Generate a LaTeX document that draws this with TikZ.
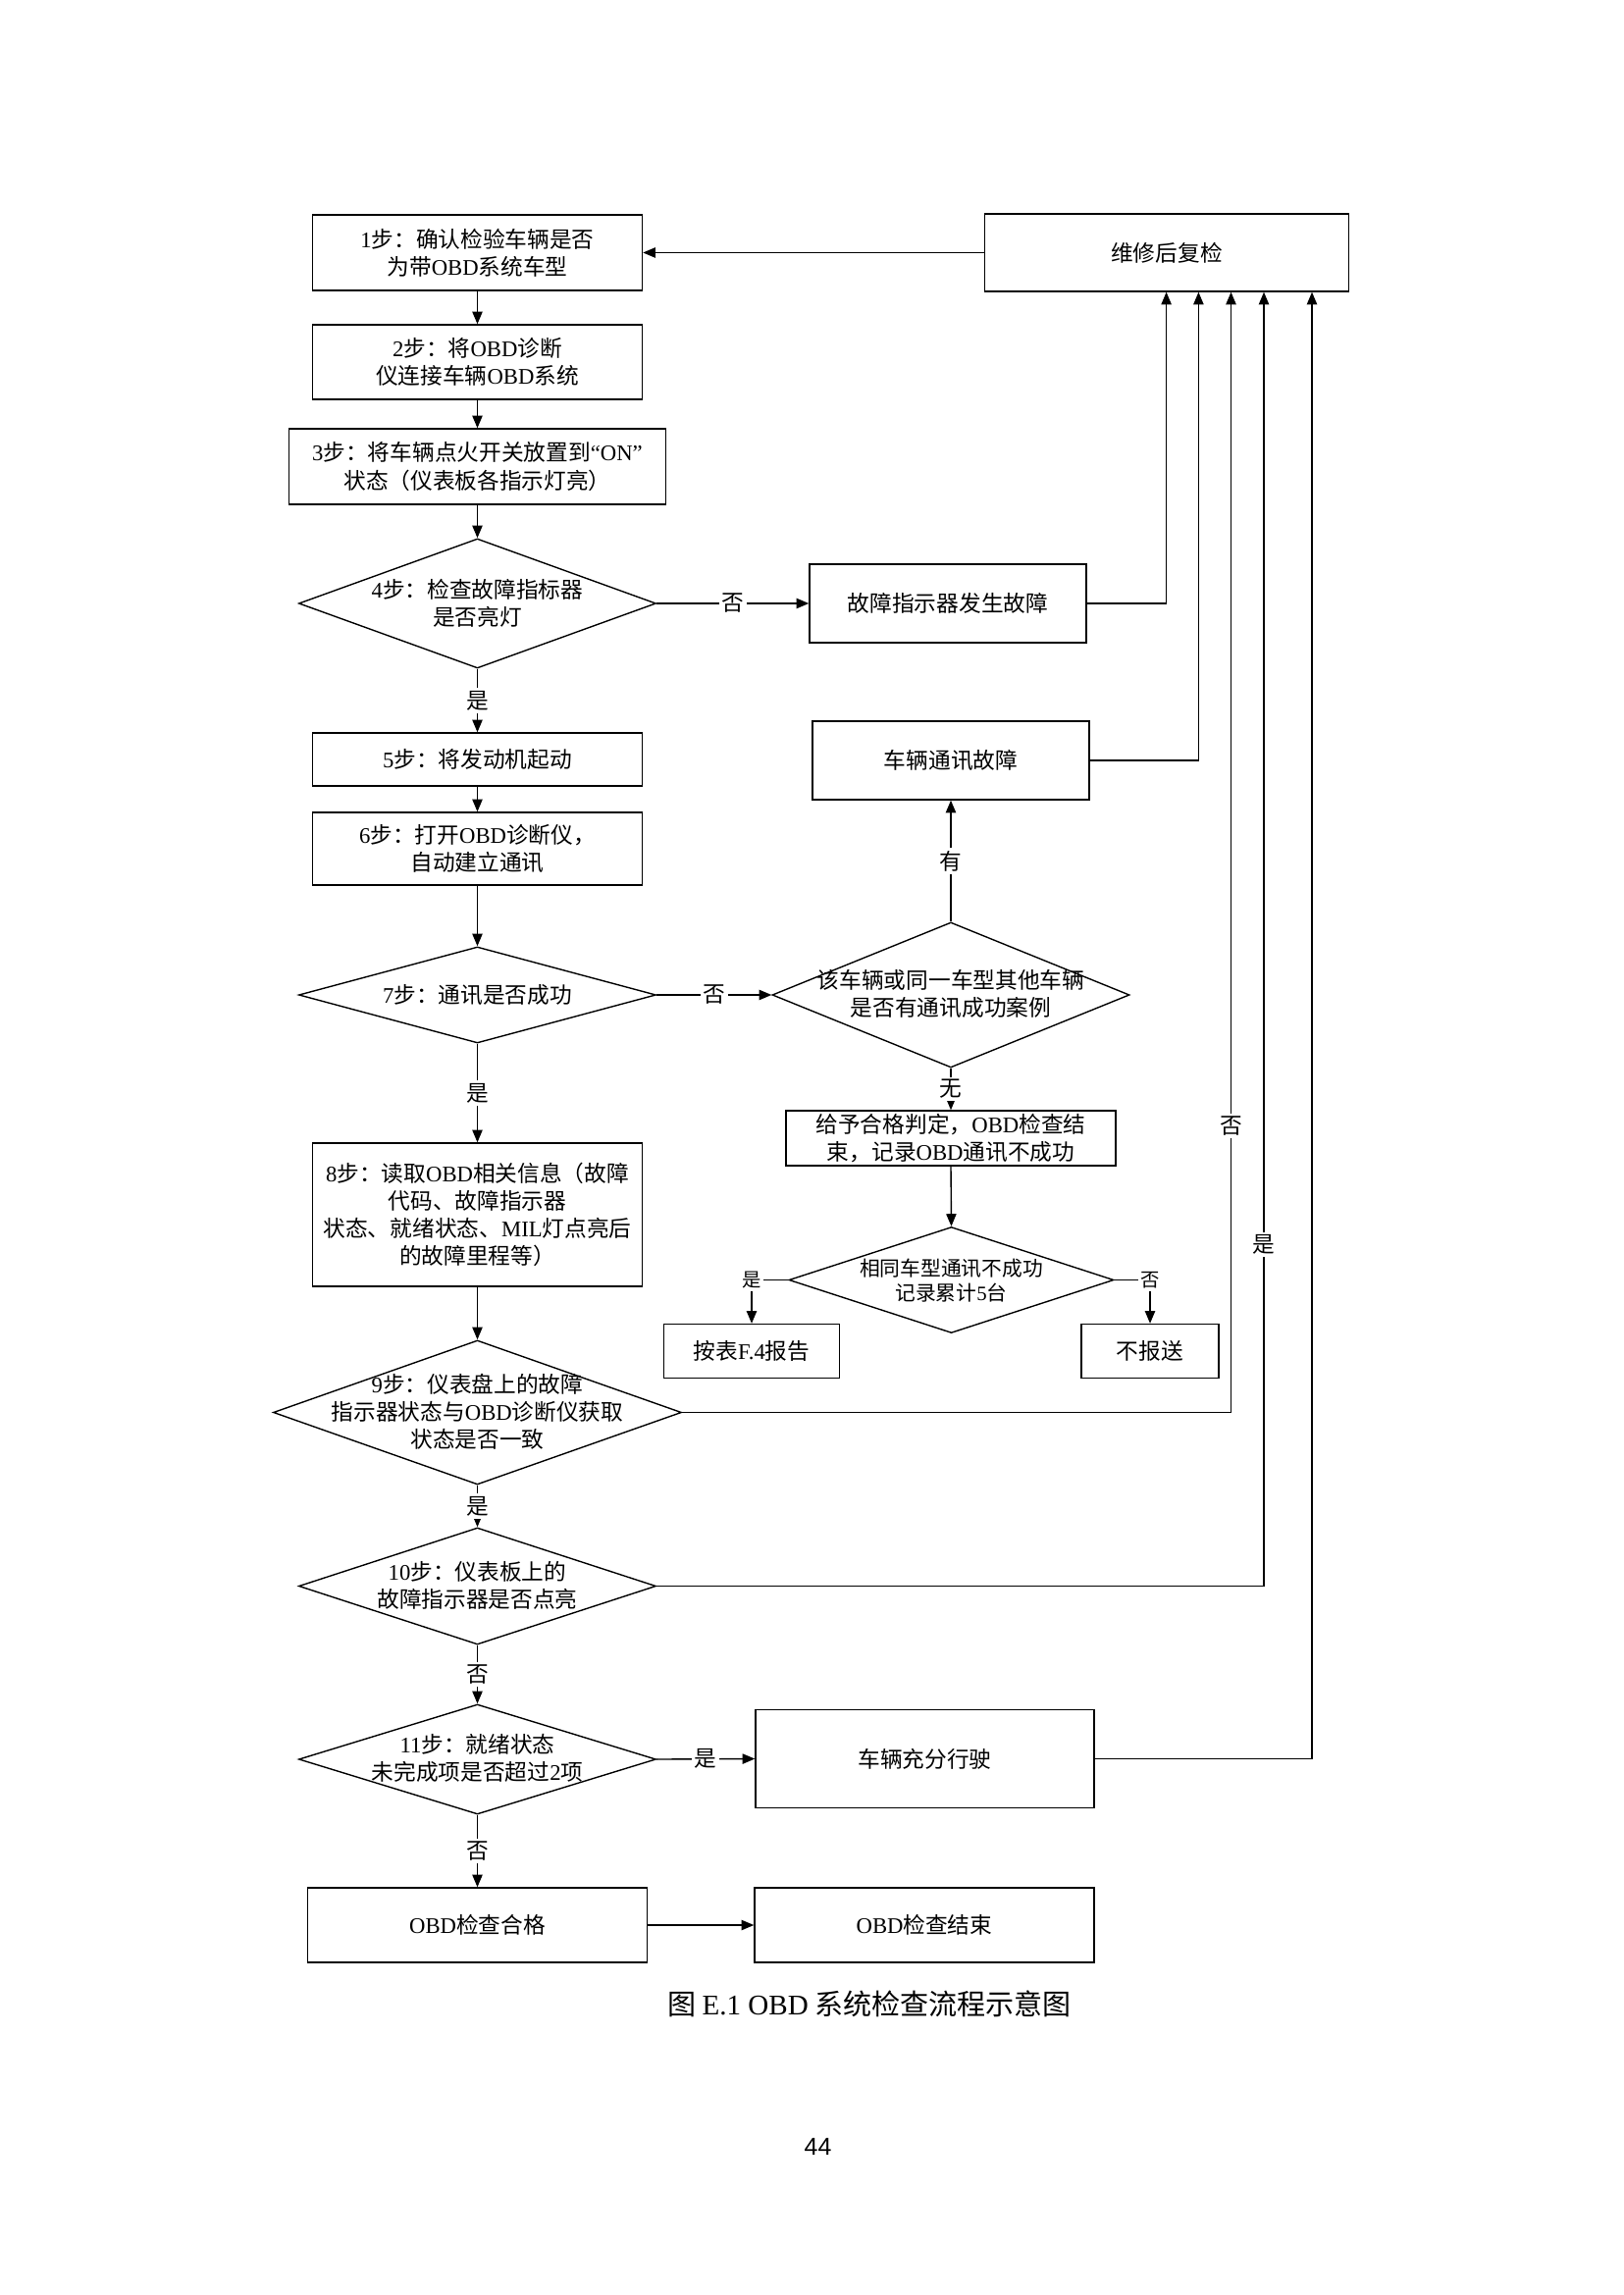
\documentclass[tikz,border=0pt]{standalone}
\usepackage{fontspec}
\setmainfont{Noto Sans CJK SC}
\newfontfamily\lat{Liberation Serif}
\newfontfamily\pgnumfont{Liberation Sans}
\usetikzlibrary{shapes.geometric,arrows.meta}
\newcommand\boxfont{\fontsize{8.2pt}{10.2pt}\selectfont}
\newcommand\smallfont{\fontsize{7.5pt}{9pt}\selectfont}
\newcommand\tinyfont{\fontsize{7pt}{8.5pt}\selectfont}
\newcommand\capfont{\fontsize{10.5pt}{12.6pt}\selectfont}
\begin{document}
\begin{tikzpicture}[x=0.127mm,y=-0.127mm,
  box/.style 2 args={draw, rectangle, line width=0.5pt, minimum width=#1*0.127mm, minimum height=#2*0.127mm, inner sep=0pt, align=center, font=\boxfont},
  dia/.style 2 args={draw, diamond, line width=0.5pt, minimum width=#1*0.127mm, minimum height=#2*0.127mm, inner sep=0pt},
  txt/.style={align=center, font=\boxfont, inner sep=0pt},
  arr/.style={line width=0.5pt, -{Triangle[length=1.6mm,width=1.3mm]}},
  lbl/.style={fill=white, inner sep=1pt, font=\boxfont},
]
\fill[white] (0,0) rectangle (1654,2339);
\useasboundingbox (0,0) rectangle (1654,2339);

% left column and right nodes
\node[box={336}{77}] (b1) at (486.5,257.5) {{\lat 1}步：确认检验车辆是否\\为带{\lat OBD}系统车型};
\node[box={371}{79}] (rc) at (1189,257.5) {维修后复检};
\node[box={336}{76}] (b2) at (486.5,369) {{\lat 2}步：将{\lat OBD}诊断\\仪连接车辆{\lat OBD}系统};
\node[box={384}{77}] (b3) at (486.5,475.5) {{\lat 3}步：将车辆点火开关放置到{\lat “ON”}\\状态（仪表板各指示灯亮）};
\node[dia={364}{132}] (d4) at (486.5,615) {};
\node[txt] (d4t) at (486.5,615) {{\lat 4}步：检查故障指标器\\是否亮灯};
\node[box={282}{80}] (f4) at (966,615) {故障指示器发生故障};
\node[box={336}{54}] (b5) at (486.5,774) {{\lat 5}步：将发动机起动};
\node[box={282}{80}] (cf) at (969,775) {车辆通讯故障};
\node[box={336}{74}] (b6) at (486.5,865) {{\lat 6}步：打开{\lat OBD}诊断仪，\\自动建立通讯};
\node[dia={364}{98}] (d7) at (486.5,1014) {};
\node[txt] (d7t) at (486.5,1014) {{\lat 7}步：通讯是否成功};
\node[dia={364}{148}] (d7b) at (969,1014) {};
\node[txt] (d7bt) at (969,1013) {该车辆或同一车型其他车辆\\是否有通讯成功案例};
\node[box={336}{56}] (pass) at (969,1160) {给予合格判定，{\lat OBD}检查结\\束，记录{\lat OBD}通讯不成功};
\node[box={336}{146}] (b8) at (486.5,1238) {{\lat 8}步：读取{\lat OBD}相关信息（故障\\代码、故障指示器\\状态、就绪状态、{\lat MIL}灯点亮后\\的故障里程等）};
\node[dia={331}{108}] (d8b) at (969.5,1304.5) {};
\node[txt, font=\smallfont] (d8bt) at (969.5,1305.5) {相同车型通讯不成功\\记录累计{\lat 5}台};
\node[box={179}{55}] (rep) at (766,1377) {按表{\lat F.4}报告};
\node[box={140}{55}] (nrep) at (1172,1377) {不报送};
\node[dia={416}{147}] (d9) at (486.5,1439.5) {};
\node[txt] (d9t) at (486.5,1438.5) {{\lat 9}步：仪表盘上的故障\\指示器状态与{\lat OBD}诊断仪获取\\状态是否一致};
\node[dia={364}{119}] (d10) at (486.5,1616.5) {};
\node[txt] (d10t) at (486.5,1615.5) {{\lat 10}步：仪表板上的\\故障指示器是否点亮};
\node[dia={364}{112}] (d11) at (486.5,1793) {};
\node[txt] (d11t) at (486.5,1792) {{\lat 11}步：就绪状态\\未完成项是否超过{\lat 2}项};
\node[box={345}{100}] (drive) at (942.5,1792.5) {车辆充分行驶};
\node[box={346}{76}] (ok) at (486.5,1962) {{\lat OBD}检查合格};
\node[box={346}{76}] (fin) at (942,1962) {{\lat OBD}检查结束};

\node[font=\capfont, inner sep=0pt] (cap) at (886,2042) {图 {\lat E.1 OBD} 系统检查流程示意图};
\node[font=\pgnumfont\fontsize{9pt}{11pt}\selectfont, inner sep=0pt] (pg) at (833.5,2188) {44};

% vertical return lines
\coordinate (v1) at (1188.6,0);
\coordinate (v2) at (1221.4,0);
\coordinate (v3) at (1254.5,0);
\coordinate (v4) at (1288,0);
\coordinate (v5) at (1337,0);

% connectors
\draw[arr] (rc.west) -- (b1.east);
\draw[arr] (b1.south) -- (b2.north);
\draw[arr] (b2.south) -- (b3.north);
\draw[arr] (b3.south) -- (d4.north);
\draw[arr] (d4.east) -- node[lbl]{否} (f4.west);
\draw[arr] (d4.south) -- node[lbl]{是} (b5.north);
\draw[arr] (b5.south) -- (b6.north);
\draw[arr] (b6.south) -- (d7.north);
\draw[arr] (d7.east) -- node[lbl]{否} (d7b.west);
\draw[arr] (d7b.north) -- node[lbl]{有} (cf.south);
\draw[arr] (d7b.south) -- node[lbl]{无} (pass.north);
\draw[arr] (d7.south) -- node[lbl]{是} (b8.north);
\draw[arr] (pass.south) -- (d8b.north);
\draw[arr] (d8b.west) -| node[lbl, font=\tinyfont, pos=0.5]{是} (rep.north);
\draw[arr] (d8b.east) -| node[lbl, font=\tinyfont, pos=0.5]{否} (nrep.north);
\draw[arr] (b8.south) -- (d9.north);
\draw[arr] (d9.south) -- node[lbl]{是} (d10.north);
\draw[arr] (d10.south) -- node[lbl]{否} (d11.north);
\draw[arr] (d11.east) -- node[lbl]{是} (drive.west);
\draw[arr] (d11.south) -- node[lbl]{否} (ok.north);
\draw[arr] (ok.east) -- (fin.west);
\draw[arr] (f4.east) -| (v1 |- rc.south);
\draw[arr] (cf.east) -| (v2 |- rc.south);
\draw[arr] (d9.east) -| node[lbl, pos=0.628]{否} (v3 |- rc.south);
\draw[arr] (d10.east) -| node[lbl, pos=0.632]{是} (v4 |- rc.south);
\draw[arr] (drive.east) -| (v5 |- rc.south);
\end{tikzpicture}
\end{document}
